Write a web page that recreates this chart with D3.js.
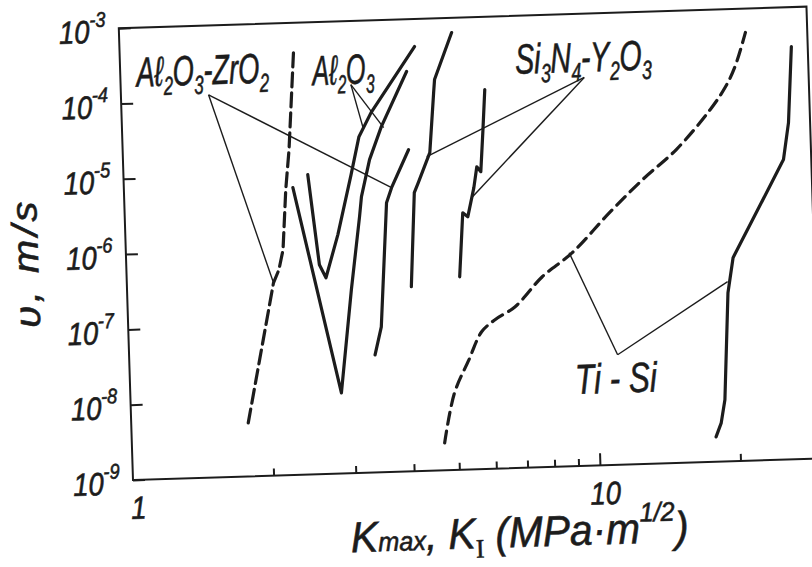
<!DOCTYPE html>
<html>
<head>
<meta charset="utf-8">
<script src="https://cdn.jsdelivr.net/npm/d3@7"></script>
<style>
  body { margin: 0; background: #fff; }
  svg { display: block; }
</style>
</head>
<body>
<div id="chart"></div>
<script>
// crack growth rate v (m/s) against K (MPa·m^1/2)

var kTicks = [2, 3, 4, 5, 6, 7, 8, 9, 10, 20];
var kLabels = [1, 10];
var vTicks = [1e-9, 1e-8, 1e-7, 1e-6, 1e-5, 1e-4, 1e-3];

// Al2O3-ZrO2, dashed
var alzrDash = [[1.78, 5.13e-9], [2.06, 3.61e-7], [2.12, 5.35e-7], [2.17, 9.8e-7],
    [2.22, 6.14e-6], [2.27, 2.08e-5], [2.36, 4.69e-4]];
// big V
var vBig = [[2.30, 6.49e-6], [2.83, 1.17e-8], [3.02, 2.71e-7], [3.18, 2.51e-6],
    [3.22, 4.61e-6], [3.37, 1.42e-5], [3.59, 3.85e-5], [4.10, 2.02e-4]];
// small V
var vSmall = [[2.48, 9.5e-6], [2.59, 6.0e-7], [2.67, 4.01e-7], [2.85, 1.48e-6],
    [3.07, 9.12e-6], [3.21, 2.89e-5], [3.42, 5.96e-5], [4.28, 4.30e-4]];
// Al2O3-ZrO2, solid
var alzrSolid = [[3.36, 3.62e-8], [3.48, 8.49e-8], [3.64, 3.75e-6], [3.74, 5.9e-6], [4.09, 1.85e-5]];
// Si3N4-Y2O3
var sinA = [[4.06, 2.81e-7], [4.18, 4.95e-6], [4.27, 6.7e-6], [4.54, 1.66e-5],
    [4.67, 1.04e-4], [4.70, 1.54e-4], [5.15, 6.37e-4]];
var sinB = [[5.16, 3.63e-7], [5.29, 2.56e-6], [5.42, 2.25e-6], [5.61, 5.46e-6],
    [5.71, 1.03e-5], [5.82, 8.83e-6], [5.92, 3.18e-5], [6.01, 1.08e-4]];
// Ti-Si
var tisiDash = [[4.67, 2.3e-9], [4.94, 1.05e-8], [5.33, 2.84e-8], [5.70, 6.62e-8],
    [6.10, 9.44e-8], [6.75, 1.38e-7], [7.75, 3.36e-7], [9.02, 6.81e-7],
    [10.9, 2.23e-6], [12.9, 5.93e-6], [15.3, 1.44e-5], [18.2, 4.73e-5],
    [19.7, 9.4e-5], [20.7, 1.72e-4], [21.9, 4.82e-4]];
var tisiSolid = [[17.8, 2.13e-9], [18.3, 3.26e-9], [18.7, 6.56e-9], [19.3, 1.72e-7],
    [19.9, 5.01e-7], [25.9, 9.55e-6], [26.7, 2.94e-5], [27.4, 3.0e-4]];

// leader lines: [from label, to curve]
var leaders = [
    [[1.54, 1.2e-4], [2.06, 3.61e-7]],
    [[1.54, 1.2e-4], [3.74, 5.9e-6]],
    [[3.11, 1.43e-4], [3.28, 3.79e-5]],
    [[3.11, 1.43e-4], [3.63, 3.72e-5]],
    [[9.83, 1.42e-4], [4.47, 1.47e-5]],
    [[9.83, 1.42e-4], [5.54, 4.02e-6]],
    [[11.1, 2.88e-8], [8.88, 6.82e-7]],
    [[11.1, 2.88e-8], [19.3, 2.42e-7]]
];

var ink = '#1c1c1c';
var font = "'Liberation Sans', Arial, sans-serif";

var margin = {top: 28, left: 133};
var width = 688, height = 452;

var svg = d3.select('#chart').append('svg')
    .attr('width', 812)
    .attr('height', 567);

// the scan is turned a little, so turn the whole drawing with it
var g = svg.append('g')
    .attr('transform', `rotate(-1.8, ${margin.left}, ${margin.top + height}) translate(${margin.left}, ${margin.top})`);

var x = d3.scaleLog().domain([1, 29.7]).range([0, width]);
var y = d3.scaleLog().domain([1e-9, 1e-3]).range([height, 0]);

// frame
g.append('rect')
    .attr('width', width)
    .attr('height', height)
    .attr('fill', 'none')
    .attr('stroke', ink)
    .attr('stroke-width', 2);

g.append('g')
    .call(d3.axisLeft(y).tickValues(vTicks).tickSize(-12).tickFormat(''))
    .call(a => a.select('.domain').remove())
    .call(a => a.selectAll('line').attr('stroke', ink).attr('stroke-width', 2));

g.append('g')
    .attr('transform', `translate(0, ${height})`)
    .call(d3.axisBottom(x).tickValues(kTicks).tickSize(-7).tickFormat(''))
    .call(a => a.select('.domain').remove())
    .call(a => a.selectAll('line').attr('stroke', ink).attr('stroke-width', 2))
    .call(a => a.selectAll('.tick').filter(d => d == 10).select('line').attr('y2', -12));

// text with sub / superscripts, squeezed like the hand lettering
function drawText(parent, parts, opt) {
    var tg = parent.append('g');
    var t = tg.append('text')
        .attr('font-family', font)
        .attr('font-style', 'italic')
        .attr('font-size', opt.size)
        .attr('fill', ink)
        .attr('stroke', ink)
        .attr('stroke-width', opt.weight || 0.6)
        .attr('letter-spacing', opt.spacing || 0);
    var shift = 0;
    parts.forEach(function(p) {
        var s = p[1] == 'sub' ? opt.size * 0.22 : p[1] == 'sup' ? -opt.size * 0.5 : 0;
        var ts = t.append('tspan')
            .attr('dy', s - shift)
            .attr('font-size', p[1] ? opt.size * (opt.small || 0.62) : opt.size)
            .text(p[0]);
        if (p[2]) ts.attr('font-family', p[2]).attr('font-style', 'normal');
        shift = s;
    });
    var w = t.node().getBBox().width;
    var sx = opt.width ? opt.width / w : (opt.sx || 1);
    var x0 = opt.anchor == 'end' ? -w : opt.anchor == 'middle' ? -w / 2 : 0;
    t.attr('x', x0);
    tg.attr('transform', `translate(${opt.x}, ${opt.y})` + (opt.rotate ? ` rotate(${opt.rotate})` : '') + ` scale(${sx}, 1)`);
    return tg;
}

// y tick labels
vTicks.forEach(function(v) {
    var e = Math.round(Math.log10(v));
    drawText(g, [['10', ''], ['-' + (-e), 'sup']],
        {x: -13, y: y(v) + 14, size: 32, sx: 0.86, anchor: 'end', small: 0.66});
});

// x tick labels
kLabels.forEach(function(k) {
    drawText(g, [[String(k), '']], {x: x(k) + 5, y: height + 39, size: 32, sx: 0.86, anchor: 'middle'});
});

var line = d3.line()
    .x(d => x(d[0]))
    .y(d => y(d[1]));

var smooth = d3.line()
    .x(d => x(d[0]))
    .y(d => y(d[1]))
    .curve(d3.curveCatmullRom.alpha(0.5));

// leaders
leaders.forEach(function(l) {
    g.append('path')
        .datum(l)
        .attr('d', line)
        .attr('fill', 'none')
        .attr('stroke', ink)
        .attr('stroke-width', 1.4);
});

var curves = [
    {data: alzrDash, gen: line, dash: '14,6'},
    {data: vBig, gen: line},
    {data: vSmall, gen: line},
    {data: alzrSolid, gen: line},
    {data: sinA, gen: line},
    {data: sinB, gen: line},
    {data: tisiDash, gen: smooth, dash: '12,7'},
    {data: tisiSolid, gen: line}
];

curves.forEach(function(c) {
    g.append('path')
        .datum(c.data)
        .attr('d', c.gen)
        .attr('fill', 'none')
        .attr('stroke', ink)
        .attr('stroke-width', 3.2)
        .attr('stroke-linejoin', 'round')
        .attr('stroke-linecap', 'round')
        .attr('stroke-dasharray', c.dash || null);
});

// curve labels
drawText(g, [['Aℓ', ''], ['2', 'sub'], ['O', ''], ['3', 'sub'], ['-ZrO', ''], ['2', 'sub']],
    {x: 16, y: 59, size: 42, width: 135});
drawText(g, [['Aℓ', ''], ['2', 'sub'], ['O', ''], ['3', 'sub']],
    {x: 192, y: 63, size: 42, width: 64});
drawText(g, [['Si', ''], ['3', 'sub'], ['N', ''], ['4', 'sub'], ['-Y', ''], ['2', 'sub'], ['O', ''], ['3', 'sub']],
    {x: 395, y: 58, size: 42, width: 137});
drawText(g, [['Ti - Si', '']], {x: 445, y: 380, size: 42, width: 83});

// axis titles
drawText(g, [['K', ''], ['max', 'low'], [', K', ''], ['I', 'sub', "'Liberation Serif', serif"], [' (MPa·m', ''], ['1/2', 'sup'], [')', '']],
    {x: 216, y: 531, size: 43, width: 338, small: 0.62});
drawText(g, [['υ, m/s', '']], {x: -88, y: 232, size: 36, width: 130, anchor: 'middle', rotate: -90, spacing: 3});
</script>
</body>
</html>
